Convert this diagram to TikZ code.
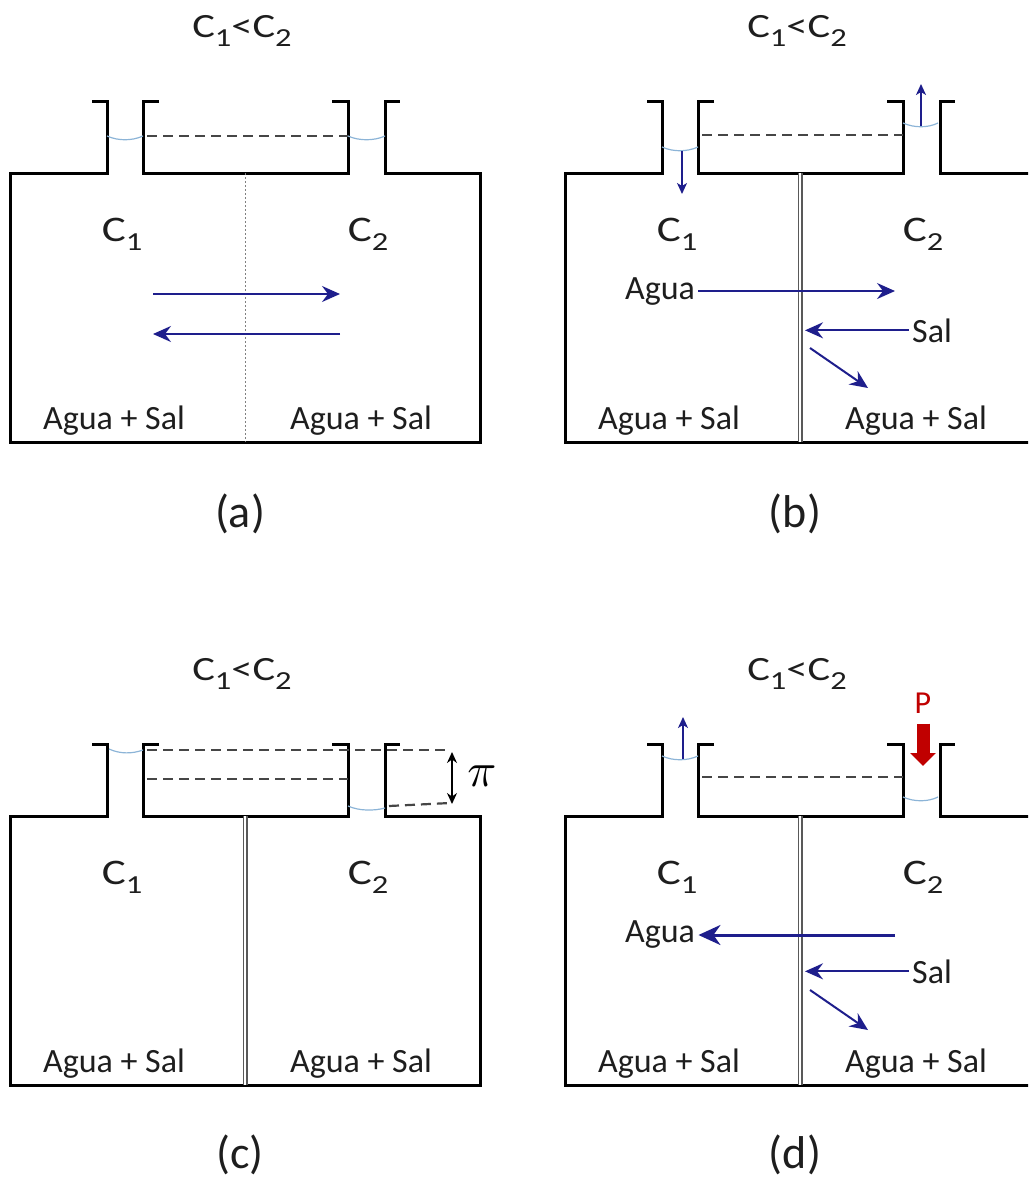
\documentclass[tikz,border=0pt]{standalone}
\usepackage{graphicx}
\usepackage{fontspec}
\setmainfont{Carlito}
\newfontfamily\widefont[FakeStretch=1.25]{Carlito}
\usetikzlibrary{arrows.meta}
\definecolor{flowblue}{RGB}{30,30,140}
\definecolor{watercol}{RGB}{140,180,215}
\definecolor{pressred}{RGB}{192,0,0}
\definecolor{inkcol}{RGB}{30,30,30}
\newcommand{\csub}[1]{\raisebox{-0.27em}{\fontsize{26}{30}\selectfont #1}}
\tikzset{
wall/.style={line width=3pt},
level/.style={gray!55!black,line width=2.2pt,dash pattern=on 10pt off 6pt},
meniscus/.style={watercol,line width=1.2pt},
membrane/.style={gray!70!black,line width=1.1pt,double=white,double distance=2.8pt},
pore/.style={gray,line width=1pt,dash pattern=on 2pt off 2pt},
flow/.style={flowblue,line width=2pt,-{Stealth[length=18pt,width=16pt,inset=6pt]}},
bigflow/.style={flowblue,line width=3pt,-{Stealth[length=22pt,width=20pt,inset=7pt]}},
rise/.style={flowblue,line width=1.5pt,-{Stealth[length=11pt,width=10pt,inset=3pt]}},
press/.style={pressred,line width=13pt,-{Triangle[length=13pt,width=25pt]}},
gap/.style={black,line width=1.5pt,{Stealth[length=11pt,width=10pt]}-{Stealth[length=11pt,width=10pt]}},
title/.style={font=\widefont\fontsize{34}{40}\selectfont,text=inkcol,anchor=base},
conc/.style={font=\widefont\fontsize{36}{42}\selectfont,text=inkcol,anchor=base},
mix/.style={font=\fontsize{34}{40}\selectfont,text=inkcol,anchor=base},
tag/.style={font=\fontsize{46}{52}\selectfont,text=inkcol,anchor=base}
}
\begin{document}
\begin{tikzpicture}[x=1pt,y=-1pt]
\useasboundingbox (0,0) rectangle (1028,1183);
\clip (0,0) rectangle (1028,1183);
\foreach \dx/\dy in {0/0,555/0,0/643,555/643}{
\begin{scope}[shift={(\dx,\dy)}]
\draw[wall] (92,101) -- (107,101) -- (107,173) -- (10,173) -- (10,442) -- (480,442) -- (480,173) -- (385,173) -- (385,101) -- (400,101);
\draw[wall] (159,101) -- (143,101) -- (143,173) -- (348,173) -- (348,101) -- (332,101);
\end{scope}
}
\foreach \nm/\x/\y in {A/242/37,B/797/37,C/242/680,D/797/680}{
\node[title] (title\nm) at (\x,\y) {C\csub{1}<C\csub{2}};
}
\node[tag] (tagA) at (240,527) {(a)};
\node[tag] (tagB) at (795,527) {(b)};
\node[tag] (tagC) at (240,1168) {(c)};
\node[tag] (tagD) at (795,1168) {(d)};
\foreach \nm/\x/\y in {A/0/0,B/555/0,C/0/643,D/555/643}{
\node[conc] (one\nm) at (122+\x,241+\y) {C\csub{1}};
\node[conc] (two\nm) at (368+\x,241+\y) {C\csub{2}};
\node[mix] (mixL\nm) at (114+\x,429+\y) {Agua + Sal};
\node[mix] (mixR\nm) at (361+\x,429+\y) {Agua + Sal};
}
% (a)
\draw[level] (147,136) -- (348,136);
\draw[meniscus] (107,136) .. controls (118,141) and (132,141) .. (143,136);
\draw[meniscus] (348,136) .. controls (359,141) and (374,141) .. (385,136);
\draw[pore] (245,173) -- (245,442);
\coordinate (goA0) at (153,294);
\coordinate (goA1) at (340,294);
\coordinate (backA0) at (340,334);
\coordinate (backA1) at (153,334);
\draw[flow] (goA0) -- (goA1);
\draw[flow] (backA0) -- (backA1);
% (b)
\draw[level] (702,135) -- (903,135);
\draw[meniscus] (662,147) .. controls (673,152) and (687,152) .. (698,147);
\draw[meniscus] (903,123) .. controls (914,128) and (928,128) .. (938,123);
\draw[membrane] (800,173) -- (800,442);
\coordinate (dropB0) at (682,151);
\coordinate (dropB1) at (682,194);
\coordinate (upB0) at (921,126);
\coordinate (upB1) at (921,84);
\draw[rise] (dropB0) -- (dropB1);
\draw[rise] (upB0) -- (upB1);
\node[mix] (aguaB) at (660,299) {Agua};
\node[mix] (salB) at (932,342) {Sal};
\coordinate (aguaBend) at (895,293);
\coordinate (salBend) at (805,334);
\coordinate (difB0) at (810,348);
\coordinate (difB1) at (868,388);
\draw[flow] (aguaB.east) -- (aguaB.east -| aguaBend);
\draw[flow] (salB.west) -- (salB.west -| salBend);
\draw[flow] (difB0) -- (difB1);
% (c)
\draw[level] (147,750) -- (450,750);
\draw[level] (147,779) -- (348,779);
\draw[level] (389,806) -- (450,803);
\draw[meniscus] (109,749) .. controls (120,754) and (132,754) .. (143,750);
\draw[meniscus] (348,806) .. controls (359,811) and (374,811) .. (385,808);
\draw[membrane] (245,816) -- (245,1085);
\coordinate (hiC) at (452,752);
\coordinate (loC) at (452,804);
\draw[gap] (hiC) -- (loC);
\node (piC) at (482,776) {\scalebox{4.8}{$\pi$}};
% (d)
\draw[level] (702,777) -- (903,777);
\draw[meniscus] (662,756) .. controls (673,761) and (687,761) .. (698,756);
\draw[meniscus] (903,797) .. controls (914,802) and (928,802) .. (938,797);
\draw[membrane] (800,816) -- (800,1085);
\coordinate (upD0) at (683,759);
\coordinate (upD1) at (683,717);
\draw[rise] (upD0) -- (upD1);
\node[font=\fontsize{32}{36}\selectfont,text=pressred,anchor=base] (pD) at (923,713) {P};
\coordinate (pressD) at (923,766);
\draw[press] (pD.south) ++(0,7) -- (pressD);
\node[mix] (aguaD) at (660,942) {Agua};
\node[mix] (salD) at (932,983) {Sal};
\coordinate (aguaDstart) at (895,935);
\coordinate (salDend) at (805,977);
\coordinate (difD0) at (810,990);
\coordinate (difD1) at (868,1030);
\draw[bigflow] (aguaDstart) -- (aguaDstart -| aguaD.east);
\draw[flow] (salD.west) -- (salD.west -| salDend);
\draw[flow] (difD0) -- (difD1);
\end{tikzpicture}
\end{document}
